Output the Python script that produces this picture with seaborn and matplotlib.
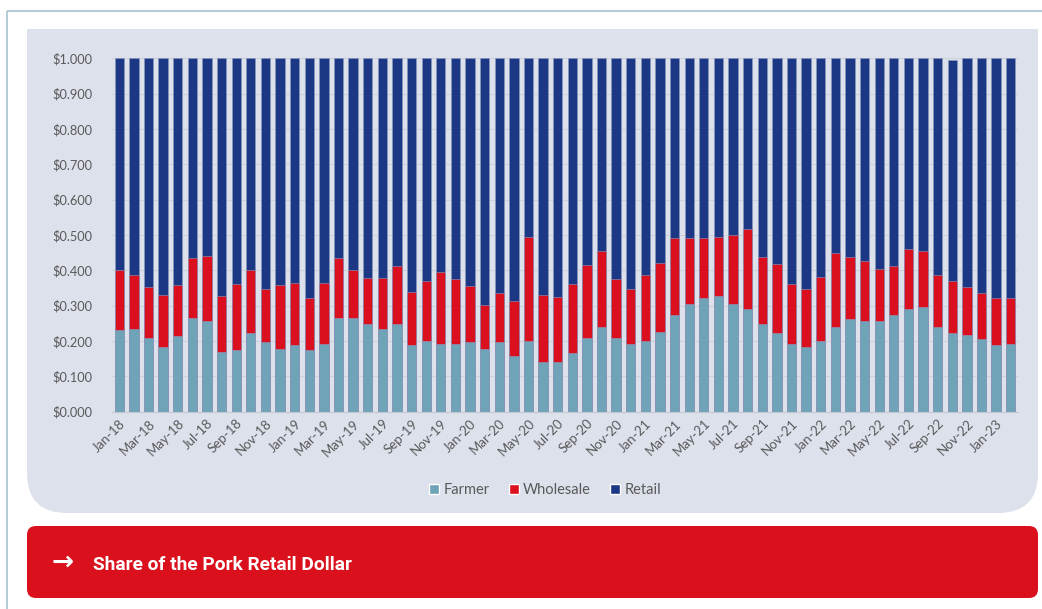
import numpy as np
import pandas as pd
import matplotlib
matplotlib.use("Agg")
import matplotlib.pyplot as plt
from matplotlib.patches import FancyBboxPatch, Rectangle, Patch
import seaborn as sns

# ---------------- data ----------------
months = list(pd.date_range("2018-01-01", periods=62, freq="MS").strftime("%b-%y"))

farmer = [0.231, 0.235, 0.209, 0.184, 0.214, 0.265, 0.258, 0.170, 0.175, 0.223,
          0.196, 0.178, 0.188, 0.175, 0.192, 0.265, 0.265, 0.248, 0.235, 0.248,
          0.188, 0.200, 0.192, 0.192, 0.196, 0.178, 0.196, 0.158, 0.200, 0.140,
          0.140, 0.166, 0.209, 0.240, 0.209, 0.192, 0.200, 0.225, 0.274, 0.305,
          0.323, 0.326, 0.305, 0.292, 0.248, 0.223, 0.192, 0.184, 0.200, 0.240,
          0.261, 0.257, 0.257, 0.274, 0.292, 0.296, 0.240, 0.223, 0.218, 0.205,
          0.188, 0.192]

wholesale = [0.169, 0.152, 0.144, 0.146, 0.144, 0.170, 0.182, 0.157, 0.186, 0.177,
             0.152, 0.180, 0.177, 0.147, 0.173, 0.170, 0.135, 0.130, 0.142, 0.165,
             0.152, 0.170, 0.204, 0.183, 0.161, 0.123, 0.139, 0.154, 0.295, 0.189,
             0.185, 0.194, 0.207, 0.216, 0.166, 0.156, 0.187, 0.197, 0.217, 0.186,
             0.168, 0.169, 0.195, 0.225, 0.191, 0.194, 0.168, 0.164, 0.182, 0.208,
             0.178, 0.169, 0.147, 0.139, 0.168, 0.160, 0.147, 0.147, 0.134, 0.130,
             0.134, 0.130]

retail = [0.600, 0.613, 0.647, 0.670, 0.642, 0.565, 0.560, 0.673, 0.639, 0.600,
          0.652, 0.642, 0.635, 0.678, 0.635, 0.565, 0.600, 0.622, 0.623, 0.587,
          0.660, 0.630, 0.604, 0.625, 0.643, 0.699, 0.665, 0.688, 0.505, 0.671,
          0.675, 0.640, 0.584, 0.544, 0.625, 0.652, 0.613, 0.578, 0.509, 0.509,
          0.509, 0.505, 0.500, 0.483, 0.561, 0.583, 0.640, 0.652, 0.618, 0.552,
          0.561, 0.574, 0.596, 0.587, 0.540, 0.544, 0.613, 0.625, 0.648, 0.665,
          0.678, 0.678]

series_names = ["Farmer", "Wholesale", "Retail"]
yticks = [0.0, 0.1, 0.2, 0.3, 0.4, 0.5, 0.6, 0.7, 0.8, 0.9, 1.0]
banner_title = "Share of the Pork Retail Dollar"

# ---------------- style ----------------
C_FARMER = "#6FA3B8"
C_WHOLE = "#DA101F"
C_RETAIL = "#1C3783"
C_PANEL = "#DDE1EC"
C_BANNER = "#DA111C"
C_TEXT = "#595959"

sns.set_theme(style="white")
plt.rcParams["font.family"] = ["Lato", "DejaVu Sans"]

W, H = 1042, 609
fig = plt.figure(figsize=(W / 100, H / 100), dpi=100)
fig.patch.set_facecolor("white")

# background overlay in pixel coordinates
bg = fig.add_axes([0, 0, 1, 1], zorder=-5)
bg.set_xlim(0, W)
bg.set_ylim(H, 0)
bg.axis("off")

# outer frame lines
bg.plot([7, W], [11, 11], color="#A7C4CF", lw=1.2, solid_capstyle="butt")
bg.plot([7, 7], [11, H], color="#A7C4CF", lw=1.2, solid_capstyle="butt")

# grey panel: rounded bottom, square top
px0, px1, py0, py1 = 27, 1038, 29, 513
bg.add_patch(FancyBboxPatch((px0, py0), px1 - px0, py1 - py0,
                            boxstyle="round,pad=0,rounding_size=40",
                            fc=C_PANEL, ec="none"))
bg.add_patch(Rectangle((px0, py0), px1 - px0, 100, fc=C_PANEL, ec="none"))

# red banner
bx0, bx1, by0, by1 = 27, 1038, 526, 598
bg.add_patch(FancyBboxPatch((bx0, by0), bx1 - bx0, by1 - by0,
                            boxstyle="round,pad=0,rounding_size=9",
                            fc=C_BANNER, ec="none"))
bg.text(63, 563, "\u2192", color="white", fontsize=19, fontweight="bold",
        ha="center", va="center", family="DejaVu Sans")
bg.text(93, 565, banner_title, color="white", fontsize=13.8, fontweight="bold",
        ha="left", va="center", family=["Roboto", "DejaVu Sans"])

# ---------------- chart ----------------
ax = fig.add_axes([112 / W, 1 - 411.7 / H, (1018 - 112) / W, (411.7 - 58.3) / H])
ax.set_facecolor("none")

f = np.array(farmer)
w = np.array(wholesale)
r = np.array(retail)
df = pd.DataFrame({"month": months,
                   "farmer": f,
                   "fw": f + w,
                   "total": f + w + r})

bar_kw = dict(width=0.64, saturation=1, ax=ax, order=months,
              edgecolor="#8D9CC0", linewidth=0.4, errorbar=None)
sns.barplot(data=df, x="month", y="total", color=C_RETAIL, **bar_kw)
sns.barplot(data=df, x="month", y="fw", color=C_WHOLE, **bar_kw)
sns.barplot(data=df, x="month", y="farmer", color=C_FARMER, **bar_kw)

ax.set_xlim(-0.5, len(months) - 0.5)
ax.set_ylim(0, 1.0)
ax.set_yticks(yticks)
ax.set_yticklabels([f"${v:.3f}" for v in yticks])
ax.set_xticks(range(0, len(months), 2))
ax.set_xticklabels(months[::2], rotation=45, ha="right", rotation_mode="anchor")
ax.set_xlabel("")
ax.set_ylabel("")

ax.grid(axis="y", color="#CDD1DA", lw=0.8)
ax.set_axisbelow(True)
for s in ["top", "right", "left"]:
    ax.spines[s].set_visible(False)
ax.spines["bottom"].set_color("#C4C8D2")
ax.spines["bottom"].set_linewidth(0.8)
ax.tick_params(axis="both", length=0, colors=C_TEXT, labelsize=9.2)
ax.tick_params(axis="y", pad=14)
ax.tick_params(axis="x", pad=4, labelsize=9.5)

handles = [Patch(fc=C_FARMER), Patch(fc=C_WHOLE), Patch(fc=C_RETAIL)]
leg = fig.legend(handles, series_names, loc="center", ncol=3, frameon=False,
                 bbox_to_anchor=(545 / W, 1 - 490 / H), fontsize=10.5,
                 handlelength=0.7, handleheight=0.7, handletextpad=0.3,
                 columnspacing=1.3)
for t in leg.get_texts():
    t.set_color(C_TEXT)

fig.savefig("out.png", dpi=100, facecolor="white")
